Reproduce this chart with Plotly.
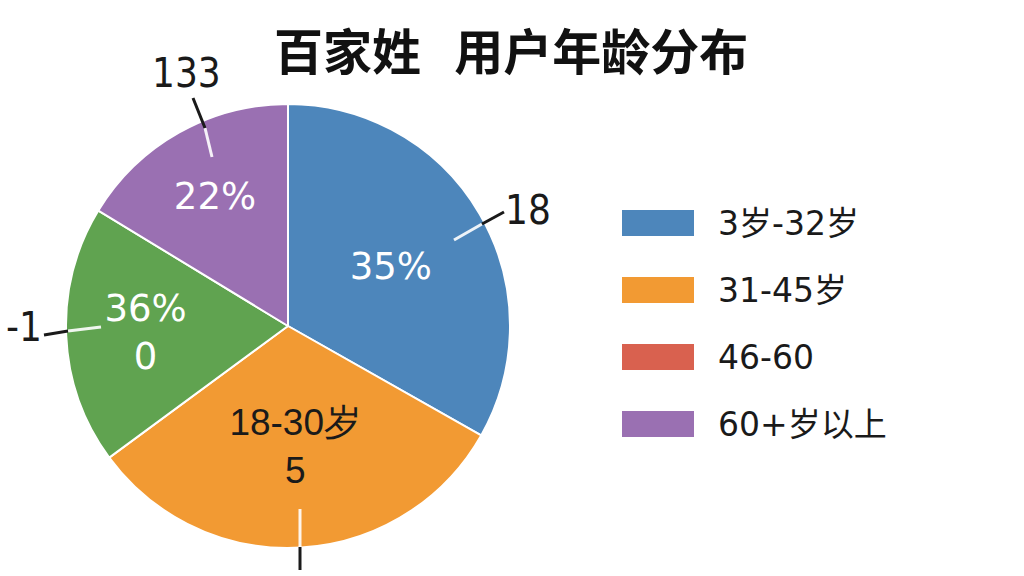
import plotly.graph_objects as go

# ---- data ----
slice_labels = ["3岁-32岁", "18-30岁", "46-60", "60+岁以上"]
slice_values = [33.2, 31.7, 18.8, 16.3]
slice_text = ["35%", "18-30岁<br>5", "36%<br>0", "22%"]
slice_colors = ["#4d86bb", "#f29a33", "#60a350", "#9a70b2"]
slice_text_colors = ["white", "#1a1a1a", "white", "white"]

legend_labels = ["3岁-32岁", "31-45岁", "46-60", "60+岁以上"]
legend_colors = ["#4d86bb", "#f29a33", "#d9614f", "#9a70b2"]

outer_labels = ["18", "", "-1", "133"]

title_text = "百家姓\u00a0\u00a0\u00a0用户年龄分布"

W, H = 1024, 576

def px(x):
    return x / W

def py(y):
    return 1 - y / H

fig = go.Figure()
fig.add_trace(go.Pie(
    labels=slice_labels,
    values=slice_values,
    text=slice_text,
    textinfo="text",
    textposition="inside",
    insidetextorientation="horizontal",
    sort=False,
    direction="clockwise",
    rotation=0,
    marker=dict(colors=slice_colors, line=dict(color="white", width=2)),
    textfont=dict(family=["DejaVu Sans", "Liberation Sans", "DejaVu Sans", "DejaVu Sans"],
                  size=37, color=slice_text_colors),
    showlegend=False,
    hoverinfo="label+percent",
    domain=dict(x=[px(66), px(510)], y=[py(548), py(104)]),
))

shapes = []
annotations = []

# title
annotations.append(dict(
    text="<b>" + title_text + "</b>", x=px(511), y=py(48), xref="paper", yref="paper",
    showarrow=False, xanchor="center", yanchor="middle",
    font=dict(family="Noto Sans CJK SC", size=49, color="#111111"),
))

# legend (swatches + labels)
row_y = [223, 290, 357, 424]
for lab, col, yy in zip(legend_labels, legend_colors, row_y):
    shapes.append(dict(type="rect", xref="paper", yref="paper",
                       x0=px(622), x1=px(694), y0=py(yy + 13), y1=py(yy - 13),
                       fillcolor=col, line=dict(width=0)))
    annotations.append(dict(text=lab, x=px(716), y=py(yy), xref="paper", yref="paper",
                            showarrow=False, xanchor="left", yanchor="middle",
                            font=dict(family="DejaVu Sans, Noto Sans CJK SC", size=33, color="#1a1a1a")))

# outer labels with leader lines (dark outside pie, white inside)
leaders = [
    ((528, 210), [(504, 212), (482, 224)], [(482, 224), (454, 240)]),
    ((300, 590), [(300, 547), (300, 570)], [(300, 509), (300, 547)]),
    ((24, 327), [(44, 335), (68, 331)], [(68, 331), (101, 327)]),
    ((186, 73), [(193, 98), (205, 128)], [(205, 128), (212, 157)]),
]
for lab, (pos, dark, white) in zip(outer_labels, leaders):
    shapes.append(dict(type="line", xref="paper", yref="paper",
                       x0=px(white[0][0]), y0=py(white[0][1]), x1=px(white[1][0]), y1=py(white[1][1]),
                       line=dict(color="rgba(255,255,255,0.9)", width=3)))
    shapes.append(dict(type="line", xref="paper", yref="paper",
                       x0=px(dark[0][0]), y0=py(dark[0][1]), x1=px(dark[1][0]), y1=py(dark[1][1]),
                       line=dict(color="#1a1a1a", width=3)))
    if lab:
        annotations.append(dict(text=lab, x=px(pos[0]), y=py(pos[1]), xref="paper", yref="paper",
                                showarrow=False, xanchor="center", yanchor="middle",
                                font=dict(family="Liberation Sans Narrow, DejaVu Sans Condensed, sans-serif",
                                          size=40, color="#1a1a1a")))

fig.update_layout(
    width=W, height=H,
    margin=dict(l=0, r=0, t=0, b=0),
    paper_bgcolor="white", plot_bgcolor="white",
    shapes=shapes, annotations=annotations,
    showlegend=False,
)

fig.write_html("out.html", config={"displayModeBar": False},
               post_script="document.body.style.margin='0';document.body.style.overflow='hidden';")
